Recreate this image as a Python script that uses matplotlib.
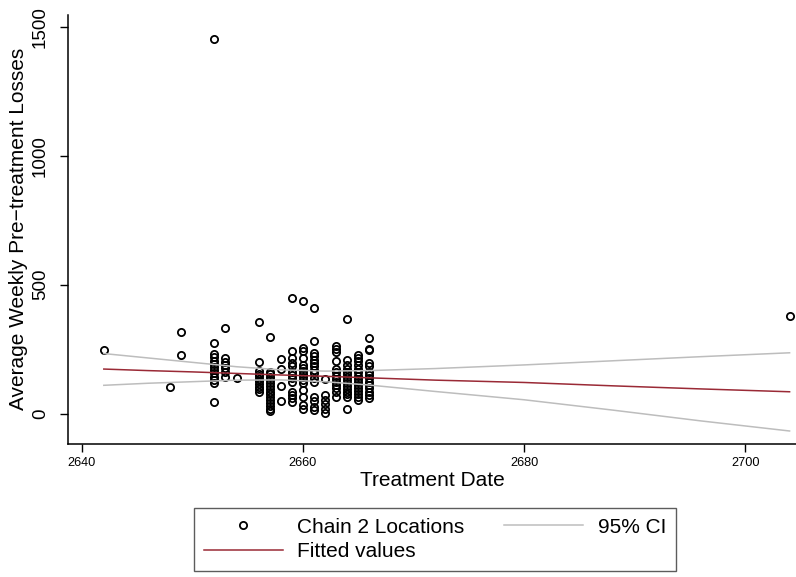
# ── Imports ───────────────────────────────────────────────────────────────────
import matplotlib
matplotlib.use('Agg')
import matplotlib.pyplot as plt
from matplotlib.lines import Line2D

plt.rcParams['font.family'] = ['Liberation Sans', 'DejaVu Sans']

# ── Data ──────────────────────────────────────────────────────────────────────
# Chain 2 locations: treatment date and average weekly pre-treatment losses
dates = ([2642] + [2648] + [2649] * 2 + [2652] * 13 + [2653] * 7 + [2654]
         + [2656] * 11 + [2657] * 16 + [2658] * 4 + [2659] * 13 + [2660] * 15
         + [2661] * 15 + [2662] * 6 + [2663] * 13 + [2664] * 15 + [2665] * 15
         + [2666] * 14 + [2704])
losses = [
    247,
    105,
    318, 226,
    1450, 273, 231, 218, 205, 192, 180, 168, 156, 144, 132, 120, 44,
    333, 215, 202, 188, 176, 163, 143,
    138,
    357, 200, 165, 155, 145, 135, 125, 115, 105, 95, 85,
    296, 163, 152, 141, 130, 119, 108, 97, 86, 75, 64, 53, 42, 31, 20, 10,
    211, 174, 107, 49,
    450, 244, 215, 198, 185, 163, 150, 137, 124, 85, 72, 59, 46,
    437, 255, 244, 215, 190, 178, 166, 155, 143, 130, 120, 92, 66, 34, 20,
    408, 282, 236, 224, 208, 195, 185, 169, 157, 137, 124, 66, 49, 27, 14,
    133, 72, 55, 38, 20, 3,
    262, 250, 240, 205, 172, 160, 148, 136, 124, 111, 98, 85, 66,
    366, 208, 190, 175, 163, 152, 141, 130, 119, 108, 97, 86, 75, 66, 17,
    227, 215, 204, 188, 172, 160, 148, 136, 124, 112, 100, 88, 76, 64, 53,
    294, 252, 246, 198, 183, 163, 150, 137, 124, 111, 98, 85, 72, 60,
    380,
]

# Fitted line and 95% CI, sampled along the date axis
fit_x  = [2642, 2646, 2650, 2654, 2658, 2662, 2666, 2672, 2680, 2688, 2696, 2704]
fit_y  = [173, 167, 162, 156, 150, 145, 139, 130, 121, 108, 96, 85]
ci_hi  = [233, 216, 199, 182, 170, 165, 167, 175, 189, 205, 221, 236]
ci_lo  = [110, 118, 124, 130, 131, 124, 111, 86, 54, 14, -28, -67]

y_ticks = [0, 500, 1000, 1500]
x_ticks = [2640, 2660, 2680, 2700]

RED  = '#9A2A36'
GREY = '#BDBDBD'
MS, MEW = 5.2, 1.3

# ── Figure ────────────────────────────────────────────────────────────────────
fig = plt.figure(figsize=(7.96, 5.77), dpi=100)
ax = fig.add_axes([68.3 / 796, 133 / 577, (796 - 68.3) / 796, 429.3 / 577])

ax.plot(dates, losses, linestyle='none', marker='o', markersize=MS,
        markerfacecolor='none', markeredgecolor='black', markeredgewidth=MEW,
        zorder=2)
ax.plot(fit_x, ci_hi, color=GREY, linewidth=1.1, zorder=3)
ax.plot(fit_x, ci_lo, color=GREY, linewidth=1.1, zorder=3)
ax.plot(fit_x, fit_y, color=RED, linewidth=1.1, zorder=4)

ax.set_xlim(2638.79, 2704.58)
ax.set_ylim(-117.4, 1546)
ax.set_xticks(x_ticks)
ax.set_yticks(y_ticks)
ax.tick_params(axis='y', labelsize=13.5, length=6, width=1, pad=8,
               labelrotation=90)
ax.tick_params(axis='x', labelsize=9.2, length=6, width=1, pad=3)
for lab in ax.get_yticklabels():
    lab.set_verticalalignment('center')

for side in ['top', 'right']:
    ax.spines[side].set_visible(False)
for side in ['left', 'bottom']:
    ax.spines[side].set_linewidth(1.1)

ax.set_xlabel('Treatment Date', fontsize=15, labelpad=2)
ax.set_ylabel('Average Weekly Pre\u2212treatment Losses', fontsize=15,
              labelpad=3)

# ── Legend ────────────────────────────────────────────────────────────────────
handles = [
    Line2D([], [], linestyle='none', marker='o', markersize=MS,
           markerfacecolor='none', markeredgecolor='black',
           markeredgewidth=MEW),
    Line2D([], [], color=RED, linewidth=1.1),
    Line2D([], [], color=GREY, linewidth=1.1),
]
labels = ['Chain 2 Locations', 'Fitted values', '95% CI']
leg = fig.legend(handles, labels, ncol=2, loc='center',
                 bbox_to_anchor=(435 / 796, (577 - 539.5) / 577),
                 fontsize=15, frameon=True, fancybox=False,
                 handlelength=3.8, handletextpad=0.7, columnspacing=1.9,
                 labelspacing=0.28, borderpad=0.45, borderaxespad=0)
leg.get_frame().set_edgecolor('#333333')
leg.get_frame().set_linewidth(1.0)

fig.savefig('out.png', dpi=100)
